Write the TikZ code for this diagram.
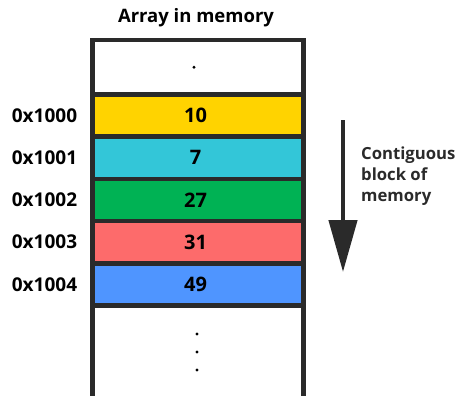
\documentclass[tikz,border=0pt]{standalone}
\usepackage{fontspec}
\setmainfont{Open Sans}
\usetikzlibrary{arrows.meta}

\definecolor{framec}{HTML}{2A2A2A}
\definecolor{yellowc}{HTML}{FFD300}
\definecolor{cyanc}{HTML}{33C6D8}
\definecolor{greenc}{HTML}{00B254}
\definecolor{redc}{HTML}{FD6B6B}
\definecolor{bluec}{HTML}{4F95FF}

\tikzset{
  cell/.style={draw=framec, line width=4.5pt, minimum width=211pt,
    minimum height=42.2pt, inner sep=0pt, font=\bfseries\fontsize{20}{22}\selectfont},
  addr/.style={font=\bfseries\fontsize{19}{22}\selectfont, inner sep=0pt},
  framel/.style={draw=framec, line width=4.5pt},
  dotc/.style={fill=black}
}

\begin{document}
\begin{tikzpicture}[x=1pt, y=-1pt]
  \useasboundingbox (0,0) rectangle (458,396);
  \clip (0,0) rectangle (458,396);

  % heading
  \node[font=\bfseries\fontsize{18.5}{20}\selectfont] (title) at (196,18) {Array in memory};

  % open cells above and below the array
  \node[cell, minimum height=54.5pt] (top) at (198,67.25) {};
  \draw[framel] (92.5,305.5) -- (92.5,400) (303.5,305.5) -- (303.5,400);
  \coordinate (below) at (197,352);

  % array elements
  \node[cell, fill=yellowc] (e0) at (198,115.6) {\hspace*{-5pt}10};
  \node[cell, fill=cyanc]   (e1) at (198,157.8) {\hspace*{-5pt}7};
  \node[cell, fill=greenc]  (e2) at (198,200.0) {\hspace*{-5pt}27};
  \node[cell, fill=redc]    (e3) at (198,242.2) {\hspace*{-5pt}31};
  \node[cell, fill=bluec]   (e4) at (198,284.4) {\hspace*{-5pt}49};

  % ellipsis dots
  \fill[dotc] (top.center) ++(-4,0) circle (1.7);
  \fill[dotc] (below) ++(0,-18) circle (1.7);
  \fill[dotc] (below) circle (1.7);
  \fill[dotc] (below) ++(0,18) circle (1.7);

  % addresses
  \node[addr] (a0) at (44.5,115.6) {0x1000};
  \node[addr] (a1) at (44.5,157.8) {0x1001};
  \node[addr] (a2) at (44.5,200.0) {0x1002};
  \node[addr] (a3) at (44.5,242.2) {0x1003};
  \node[addr] (a4) at (44.5,284.4) {0x1004};

  % direction arrow
  \coordinate (arrS) at (343,120);
  \coordinate (arrE) at (343,272);
  \draw[framel, -{Triangle[length=52pt,width=28pt]}] (arrS) -- (arrE);

  \node[anchor=north west, align=left, inner sep=0pt,
        font=\bfseries\fontsize{16.7}{21}\selectfont, text=framec] (lbl) at (361,147)
        {Contiguous\\block of\\memory};
\end{tikzpicture}
\end{document}
